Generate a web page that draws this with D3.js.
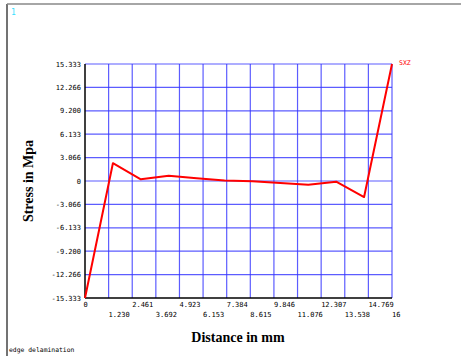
<!DOCTYPE html>
<html>
<head>
<meta charset="utf-8">
<script src="https://cdn.jsdelivr.net/npm/d3@7"></script>
<style>
  body { margin: 0; background: #fff; }
  svg { display: block; }
</style>
</head>
<body>
<svg id="chart"></svg>
<script>
const w = 461;
const h = 356;

// path distance (mm) and stress (Mpa) along the path
const distance = [0, 1.455, 2.909, 4.364, 5.818, 7.273, 8.727, 10.182, 11.636, 13.091, 14.545, 16];
const stress = [-15.333, 2.33, 0.22, 0.70, 0.35, 0.08, -0.02, -0.25, -0.50, -0.09, -2.1, 15.333];

const xTicks = [0, 1.2308, 2.4615, 3.6923, 4.9231, 6.1538, 7.3846, 8.6154, 9.8462, 11.0769, 12.3077, 13.5385, 14.7692, 16];
const xTickLabels = ["0", "1.230", "2.461", "3.692", "4.923", "6.153", "7.384", "8.615", "9.846", "11.076", "12.307", "13.538", "14.769", "16"];
const yTicks = [15.333, 12.266, 9.2, 6.133, 3.066, 0, -3.066, -6.133, -9.2, -12.266, -15.333];
const yTickLabels = ["15.333", "12.266", "9.200", "6.133", "3.066", "0", "-3.066", "-6.133", "-9.200", "-12.266", "-15.333"];

const svg = d3.select("#chart")
  .attr("width", w)
  .attr("height", h);

const x = d3.scaleLinear().domain([0, 16]).range([85, 392]);
const y = d3.scaleLinear().domain([-15.333, 15.333]).range([298, 64]);

// window frame
svg.append("line").attr("x1", 7).attr("x2", 7).attr("y1", 4).attr("y2", h)
  .attr("stroke", "#444").attr("stroke-width", 1.5);
svg.append("line").attr("x1", 7).attr("x2", w).attr("y1", 4).attr("y2", 4)
  .attr("stroke", "#888").attr("stroke-width", 1.5);

svg.append("text").text("1")
  .attr("x", 11).attr("y", 15)
  .attr("fill", "#33e0ff")
  .attr("font-family", "DejaVu Sans Mono")
  .attr("font-size", 8);

// grid
const grid = svg.append("g").attr("stroke", "#3333ff").attr("stroke-opacity", 0.8);
grid.selectAll("line.v")
  .data(xTicks.slice(1))
  .enter().append("line")
  .attr("x1", d => x(d)).attr("x2", d => x(d))
  .attr("y1", y(15.333)).attr("y2", y(-15.333))
  .attr("stroke-width", 1.2);
grid.selectAll("line.h")
  .data(yTicks.filter(d => d !== -15.333))
  .enter().append("line")
  .attr("x1", x(0)).attr("x2", x(16))
  .attr("y1", d => y(d)).attr("y2", d => y(d))
  .attr("stroke-width", 1.2);

// axes
svg.append("line").attr("x1", x(0)).attr("x2", x(0)).attr("y1", y(15.333)).attr("y2", y(-15.333))
  .attr("stroke", "#000").attr("stroke-width", 1.5);
svg.append("line").attr("x1", x(0)).attr("x2", x(16)).attr("y1", y(-15.333)).attr("y2", y(-15.333))
  .attr("stroke", "#000").attr("stroke-width", 1.5);

// tick labels
svg.append("g").selectAll("text")
  .data(yTicks)
  .enter().append("text")
  .text((d, i) => yTickLabels[i])
  .attr("x", 81)
  .attr("y", d => y(d) + 2.5)
  .attr("text-anchor", "end")
  .attr("font-family", "DejaVu Sans Mono")
  .attr("font-size", 7)
  .attr("fill", "#000");

svg.append("g").selectAll("text")
  .data(xTicks)
  .enter().append("text")
  .text((d, i) => xTickLabels[i])
  .attr("x", (d, i) => x(d) - (i === 0 ? 1.5 : 0))
  .attr("y", (d, i) => i % 2 === 0 ? 307 : 317)
  .attr("text-anchor", "start")
  .attr("font-family", "DejaVu Sans Mono")
  .attr("font-size", 7)
  .attr("fill", "#000");

// stress curve
const line = d3.line()
  .x((d, i) => x(distance[i]))
  .y(d => y(d));

svg.append("path")
  .datum(stress)
  .attr("d", line)
  .attr("fill", "none")
  .attr("stroke", "#ff0000")
  .attr("stroke-width", 2)
  .attr("stroke-linejoin", "round");

svg.append("text").text("SXZ")
  .attr("x", x(16) + 7).attr("y", y(15.333) + 1)
  .attr("fill", "#ff0000")
  .attr("font-family", "DejaVu Sans Mono")
  .attr("font-size", 6.5);

// axis titles
svg.append("text").text("Distance in mm")
  .attr("x", 238).attr("y", 342)
  .attr("text-anchor", "middle")
  .attr("font-family", "Liberation Serif")
  .attr("font-weight", "bold")
  .attr("font-size", 14);

svg.append("text").text("Stress in Mpa")
  .attr("transform", "translate(33,181) rotate(-90)")
  .attr("text-anchor", "middle")
  .attr("font-family", "Liberation Serif")
  .attr("font-weight", "bold")
  .attr("font-size", 14);

svg.append("text").text("edge delamination")
  .attr("x", 9).attr("y", 352)
  .attr("font-family", "DejaVu Sans Mono")
  .attr("font-size", 6.4)
  .attr("fill", "#000");
</script>
</body>
</html>
